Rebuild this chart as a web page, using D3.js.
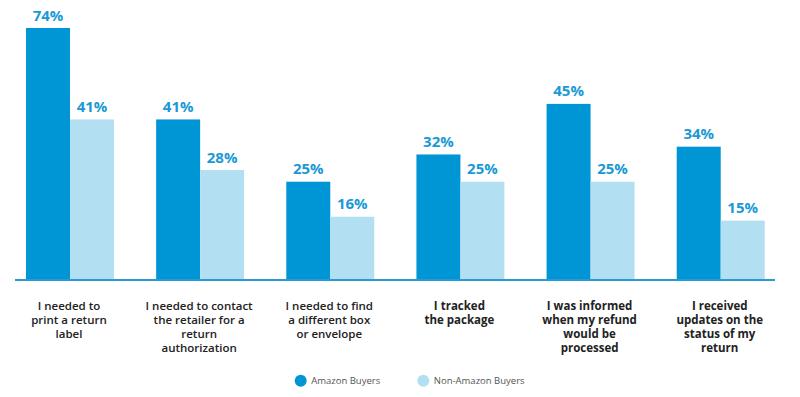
<!DOCTYPE html>
<html>
<head>
<meta charset="utf-8">
<script src="https://cdn.jsdelivr.net/npm/d3@7"></script>
<style>
  html, body { margin: 0; padding: 0; background: #fff; }
  svg { display: block; }
</style>
</head>
<body>
<svg id="chart" width="800" height="397"></svg>
<script>
const categories = [
  ["I needed to", "print a return", "label"],
  ["I needed to contact", "the retailer for a", "return", "authorization"],
  ["I needed to find", "a different box", "or envelope"],
  ["I tracked", "the package"],
  ["I was informed", "when my refund", "would be", "processed"],
  ["I received", "updates on the", "status of my", "return"]
];
const categoryBold = [false, false, false, true, true, true];
const seriesNames = ["Amazon Buyers", "Non-Amazon Buyers"];
const amazonValues = [74, 41, 25, 32, 45, 34];
const nonAmazonValues = [41, 28, 16, 25, 25, 15];
const seriesColors = ["#0095d4", "#b3dff2"];

const svg = d3.select("#chart");
const baseline = 279;
const idx = d3.range(categories.length);

const x = d3.scaleBand().domain(idx).range([26, 764.7]).paddingInner(0.324).paddingOuter(0);
const xs = d3.scaleBand().domain([0, 1]).range([0, x.bandwidth()]);
const y = d3.scaleLinear().domain([0, 64.5]).range([baseline, 28]).clamp(true);

const data = [amazonValues, nonAmazonValues];

const groups = svg.selectAll("g.grp").data(idx).join("g")
  .attr("class", "grp")
  .attr("transform", i => `translate(${x(i)},0)`);

groups.each(function(i) {
  const g = d3.select(this);
  [0, 1].forEach(s => {
    const v = data[s][i];
    g.append("rect")
      .attr("x", xs(s))
      .attr("y", y(v))
      .attr("width", xs.bandwidth())
      .attr("height", baseline - y(v))
      .attr("fill", seriesColors[s]);
    g.append("text")
      .attr("x", xs(s) + xs.bandwidth() / 2)
      .attr("y", y(v) - 7.5)
      .attr("text-anchor", "middle")
      .attr("font-family", "'Open Sans', sans-serif")
      .attr("font-weight", "bold")
      .attr("font-size", "15px")
      .attr("fill", "#1a99d5")
      .text(v + "%");
  });
  const t = g.append("text")
    .attr("text-anchor", "middle")
    .attr("font-family", "'Open Sans', sans-serif")
    .attr("font-size", "11.5px")
    .attr("font-weight", categoryBold[i] ? "bold" : "600")
    .attr("fill", "#222");
  categories[i].forEach((line, k) => {
    t.append("tspan")
      .attr("x", x.bandwidth() / 2 - 1)
      .attr("y", 309.5 + k * 14.3)
      .text(line);
  });
});

// axis baseline
svg.append("line")
  .attr("x1", 15).attr("x2", 775)
  .attr("y1", baseline + 1).attr("y2", baseline + 1)
  .attr("stroke", "#2a9ad6")
  .attr("stroke-width", 2);

// legend
const legendX = [300.7, 423.3];
seriesNames.forEach((name, s) => {
  svg.append("circle")
    .attr("cx", legendX[s]).attr("cy", 380.7).attr("r", 6)
    .attr("fill", seriesColors[s]);
  svg.append("text")
    .attr("x", legendX[s] + 10.5).attr("y", 384)
    .attr("font-family", "'Open Sans', sans-serif")
    .attr("font-size", "9.5px")
    .attr("fill", "#555")
    .text(name);
});
</script>
</body>
</html>
